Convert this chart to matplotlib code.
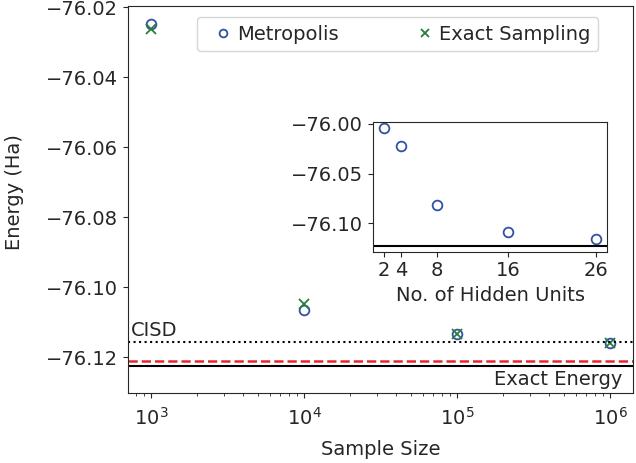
import matplotlib.pyplot as plt
import numpy as np

# data
sample_sizes = [1e3, 1e4, 1e5, 1e6]
metropolis = [-76.0246, -76.1065, -76.1134, -76.1158]
exact_sampling = [-76.0262, -76.1048, -76.1134, -76.1158]

hidden_units = [2, 4, 8, 16, 26]
hidden_energy = [-76.0040, -76.0220, -76.0813, -76.1088, -76.1160]

cisd_energy = -76.1155
best_energy = -76.1210
exact_energy = -76.1225

blue = '#2f52a5'
green = '#2a7d3a'
text_col = '#262626'

plt.rcParams['font.size'] = 14
plt.rcParams['text.color'] = text_col
plt.rcParams['axes.labelcolor'] = text_col
plt.rcParams['xtick.color'] = text_col
plt.rcParams['ytick.color'] = text_col
plt.rcParams['axes.edgecolor'] = text_col

fig = plt.figure(figsize=(6.36, 4.63), dpi=100)
ax = fig.add_axes([0.2013, 0.1505, 0.7940, 0.8365])

ax.plot(sample_sizes, metropolis, 'o', mfc='none', mec=blue, mew=1.3, ms=7,
        label='Metropolis', linestyle='none')
ax.plot(sample_sizes, exact_sampling, 'x', color=green, mew=1.3, ms=7,
        label='Exact Sampling', linestyle='none')

ax.axhline(cisd_energy, color='black', linestyle=':', linewidth=1.5)
ax.axhline(best_energy, color='#e8262a', linestyle='--', linewidth=1.8)
ax.axhline(exact_energy, color='black', linestyle='-', linewidth=1.5)

ax.set_xscale('log')
ax.set_xlim(10 ** 2.85, 10 ** 6.15)
ax.set_ylim(-76.1303, -76.0196)
ax.set_yticks([-76.12, -76.10, -76.08, -76.06, -76.04, -76.02])
ax.tick_params(axis='x', which='major', pad=6)
ax.set_xlabel('Sample Size', labelpad=8)
ax.set_ylabel('Energy (Ha)')
ax.yaxis.set_label_coords(-0.206, 0.52)

ax.text(0.006, cisd_energy + 0.0004, 'CISD', transform=ax.get_yaxis_transform(),
        ha='left', va='bottom', fontsize=14)
ax.text(0.978, exact_energy - 0.0011, 'Exact Energy', transform=ax.get_yaxis_transform(),
        ha='right', va='top', fontsize=14)

ax.legend(loc='upper left', bbox_to_anchor=(0.136, 0.972), borderaxespad=0,
          ncol=2, handlelength=1.9, handletextpad=-0.2, columnspacing=3.45,
          markerscale=0.8, fontsize=14)

# inset
ins = fig.add_axes([0.5865, 0.4564, 0.3680, 0.2803])
ins.plot(hidden_units, hidden_energy, 'o', mfc='none', mec=blue, mew=1.3, ms=7,
         linestyle='none')
ins.axhline(exact_energy, color='black', linestyle='-', linewidth=1.5)
ins.set_xlim(0.8, 27.2)
ins.set_ylim(-76.1285, -75.998)
ins.set_xticks(hidden_units)
ins.set_yticks([-76.10, -76.05, -76.00])
ins.set_xlabel('No. of Hidden Units')

plt.savefig('out.png', dpi=100)
